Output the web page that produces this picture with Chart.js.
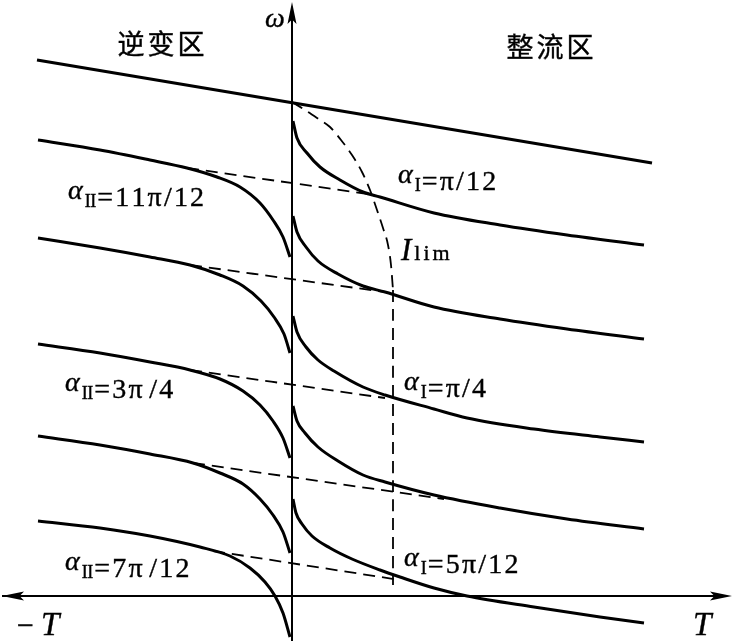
<!DOCTYPE html>
<html>
<head>
<meta charset="utf-8">
<script src="https://cdn.jsdelivr.net/npm/chart.js@4/dist/chart.umd.min.js"></script>
<style>
  html, body { margin: 0; padding: 0; background: #fff; }
  canvas { display: block; }
</style>
</head>
<body>
<canvas id="chart" width="734" height="641"></canvas>
<script>
// T (torque) and omega (speed) in arbitrary units
// ideal no-load line
const noLoad = [[-25.5, 53.6], [36.0, 43.3]];

// rectifier region curves (alpha_I)
const rect1 = [[0.1,47.5],[0.5,45.8],[1.5,44.3],[2.8,42.9],[4.8,41.6],[7.1,40.4],[8.8,39.9],[14.2,38.3],[20.8,37.1],[27.5,36.1],[35.2,35.1]];
const rect2 = [[0.1,38.0],[0.5,36.4],[1.4,34.9],[2.6,33.5],[4.6,32.2],[7.1,31.0],[9.3,30.4],[14.2,28.9],[20.8,27.7],[27.5,26.7],[35.2,25.7]];
const rect3 = [[0.1,28.0],[0.5,26.4],[1.4,24.9],[2.6,23.6],[4.2,22.5],[7.1,20.9],[9.3,20.1],[14.2,18.7],[17.5,17.8],[24.2,16.7],[30.8,15.9],[35.2,15.4]];
const rect4 = [[0.1,19.0],[0.5,17.5],[1.3,16.3],[2.6,14.9],[4.6,13.5],[7.1,12.1],[9.3,11.4],[14.2,10.1],[20.8,8.8],[27.5,7.7],[35.2,6.7]];
const rect5 = [[0.1,9.7],[0.4,8.3],[1.0,7.2],[2.0,6.0],[3.8,4.8],[6.0,3.7],[8.8,2.6],[10.8,1.9],[14.2,0.8],[17.5,0.0],[24.2,-1.1],[30.8,-2.1],[35.2,-2.7]];

// inverter region curves (alpha_II)
const inv1 = [[-25.4,45.6],[-19.2,44.6],[-14.2,43.6],[-10.5,42.8],[-7.5,41.9],[-5.2,40.9],[-3.2,39.3],[-1.9,37.6],[-0.9,35.9],[-0.2,33.9]];
const inv2 = [[-25.4,35.8],[-19.2,34.8],[-14.2,33.9],[-10.2,33.1],[-7.2,32.1],[-4.9,31.0],[-3.1,29.5],[-1.8,27.9],[-0.8,26.2],[-0.2,24.3]];
const inv3 = [[-25.4,25.2],[-19.2,24.3],[-14.2,23.4],[-10.2,22.6],[-7.2,21.7],[-4.9,20.5],[-3.2,19.1],[-1.9,17.5],[-0.9,15.8],[-0.2,13.8]];
const inv4 = [[-25.4,16.0],[-19.2,15.1],[-14.2,14.2],[-9.9,13.3],[-7.2,12.3],[-4.9,11.2],[-3.2,9.7],[-1.9,8.1],[-0.9,6.4],[-0.2,4.3]];
const inv5 = [[-25.4,7.5],[-19.2,6.8],[-14.2,6.0],[-9.2,4.9],[-6.2,4.0],[-4.2,2.8],[-2.7,1.4],[-1.7,0.0],[-0.9,-1.7],[-0.2,-4.1]];

// continuous-current characteristics (dashed)
const cont1 = [[-10.5,42.8],[8.3,40.1]];
const cont2 = [[-10.2,33.1],[9.3,30.4]];
const cont3 = [[-10.2,22.6],[9.3,19.8]];
const cont4 = [[-9.9,13.3],[15.2,9.7]];
const cont5 = [[-7.9,4.5],[10.8,1.6]];

// current limit boundary
const limArc = [[0,49.4],[1.3,48.6],[2.5,47.8],[3.8,46.9],[4.9,45.6],[6.0,44.1],[7.0,42.4],[7.8,40.6],[8.5,38.6],[9.1,36.8],[9.6,35.1],[9.9,33.1],[10.1,30.6]];
const limLine = [[10.1,30.6],[10.1,1.1]];

// axes
const tAxis = [-29.0, 44.0];
const wAxis = [-4.5, 59.4];

// labels: [alpha subscript, rest, T, omega]
const alphaLabels = [
  ['II', '=11π/12', -22.4, 39.0],
  ['I', '=π/12', 10.6, 40.6],
  ['II', '=3π\u200A/4', -22.7, 19.8],
  ['I', '=π/4', 11.2, 19.9],
  ['II', '=7π\u200A/12', -22.7, 1.9],
  ['I', '=5π/12', 11.2, 2.3]
];
const regionLabels = [['逆变区', -13.1, 55.2], ['整流区', 25.8, 54.9]];
const limLabel = [10.9, 33.6];
const omegaLabel = [-1.7, 57.6];
const negTLabel = [-27.5, -3.9];
const posTLabel = [40.3, -3.9];

const pts = arr => arr.map(p => ({x: p[0], y: p[1]}));

function solid(arr, w) {
  return { data: pts(arr), borderColor: '#000', borderWidth: w || 3, pointRadius: 0,
           showLine: true, cubicInterpolationMode: 'monotone', fill: false };
}
function dashed(arr) {
  return { data: pts(arr), borderColor: '#000', borderWidth: 1.8, pointRadius: 0,
           showLine: true, borderDash: [12, 7], cubicInterpolationMode: 'monotone', fill: false };
}

const datasets = [
  solid([[tAxis[0], 0], [tAxis[1] - 1.5, 0]], 2),
  solid([[0, wAxis[0]], [0, wAxis[1] - 1.5]], 2),
  solid(noLoad, 3.2),
  solid(rect1), solid(rect2), solid(rect3), solid(rect4), solid(rect5),
  solid(inv1), solid(inv2), solid(inv3), solid(inv4), solid(inv5),
  dashed(cont1), dashed(cont2), dashed(cont3), dashed(cont4), dashed(cont5),
  dashed(limArc), dashed(limLine)
];

// find an installed Times-like face
function hasFont(name) {
  const c = document.createElement('canvas').getContext('2d');
  const probe = 'mmmmmmmmmmlli1WQ@#';
  let diff = false;
  ['monospace', 'sans-serif'].forEach(g => {
    c.font = '40px ' + g;
    const a = c.measureText(probe).width;
    c.font = '40px "' + name + '", ' + g;
    if (c.measureText(probe).width !== a) diff = true;
  });
  return diff;
}
const serifName = ['Liberation Serif', 'Times New Roman', 'Tinos', 'Nimbus Roman', 'DejaVu Serif', 'Noto Serif']
  .find(hasFont);
const serif = serifName ? '"' + serifName + '", serif' : 'serif';

function arrow(ctx, tx, ty, dx, dy) {
  const len = 22, half = 4.5;
  const bx = tx - dx * len, by = ty - dy * len;
  ctx.beginPath();
  ctx.moveTo(tx, ty);
  ctx.lineTo(bx - dy * half, by + dx * half);
  ctx.lineTo(tx - dx * len * 0.8, ty - dy * len * 0.8);
  ctx.lineTo(bx + dy * half, by - dx * half);
  ctx.closePath();
  ctx.fill();
}

// draw text char by char with extra spacing, returns end x
function spaced(ctx, str, x, y, font, gap) {
  ctx.font = font;
  for (const ch of str) {
    ctx.fillText(ch, x, y);
    ctx.strokeText(ch, x, y);
    x += ctx.measureText(ch).width + gap;
  }
  return x;
}

const decor = {
  id: 'decor',
  afterDatasetsDraw(chart) {
    const ctx = chart.ctx;
    const sx = chart.scales.x, sy = chart.scales.y;
    const px = v => sx.getPixelForValue(v), py = v => sy.getPixelForValue(v);
    ctx.save();
    ctx.fillStyle = '#000';
    ctx.strokeStyle = '#000';
    ctx.lineWidth = 0.4;
    // arrow heads
    arrow(ctx, px(tAxis[1]), py(0), 1, 0);
    arrow(ctx, px(tAxis[0]), py(0), -1, 0);
    arrow(ctx, px(0), py(wAxis[1]), 0, -1);

    ctx.textBaseline = 'alphabetic';
    ctx.textAlign = 'left';

    // region names
    regionLabels.forEach(l => {
      ctx.font = '27px "Noto Sans CJK SC"';
      const w = ctx.measureText(l[0]).width + 6;
      spaced(ctx, l[0], px(l[1]) - w / 2, py(l[2]) + 10, ctx.font, 3);
    });

    // alpha labels
    alphaLabels.forEach(l => {
      let x = px(l[2]);
      const y = py(l[3]);
      x = spaced(ctx, 'α', x, y - 7, 'italic 28px ' + serif, 2);
      x = spaced(ctx, l[0], x, y + 1, '18px ' + serif, -0.5) + 1.5;
      spaced(ctx, l[1], x, y, '28px ' + serif, 2.2);
    });

    // I_lim
    let x = px(limLabel[0]);
    x = spaced(ctx, 'I', x, py(limLabel[1]), 'italic 31px ' + serif, 3);
    spaced(ctx, 'lim', x, py(limLabel[1]), '22px ' + serif, 3);

    // axis names
    spaced(ctx, 'ω', px(omegaLabel[0]) - 10, py(omegaLabel[1]) + 7, 'italic 28px ' + serif, 0);
    x = spaced(ctx, '−', px(negTLabel[0]), py(negTLabel[1]), '30px ' + serif, 7);
    spaced(ctx, 'T', x, py(negTLabel[1]), 'italic 33px ' + serif, 0);
    spaced(ctx, 'T', px(posTLabel[0]) - 2, py(posTLabel[1]), 'italic 33px ' + serif, 0);
    ctx.restore();
  }
};

const chart = new Chart(document.getElementById('chart').getContext('2d'), {
  type: 'scatter',
  data: { datasets },
  options: {
    responsive: false,
    animation: false,
    layout: { padding: 0 },
    plugins: { legend: { display: false }, tooltip: { enabled: false } },
    scales: {
      x: { type: 'linear', display: false, min: -29.2, max: 44.2 },
      y: { type: 'linear', display: false, min: -4.5, max: 59.6 }
    }
  },
  plugins: [decor]
});
if (document.fonts) document.fonts.ready.then(() => chart.draw());
</script>
</body>
</html>
